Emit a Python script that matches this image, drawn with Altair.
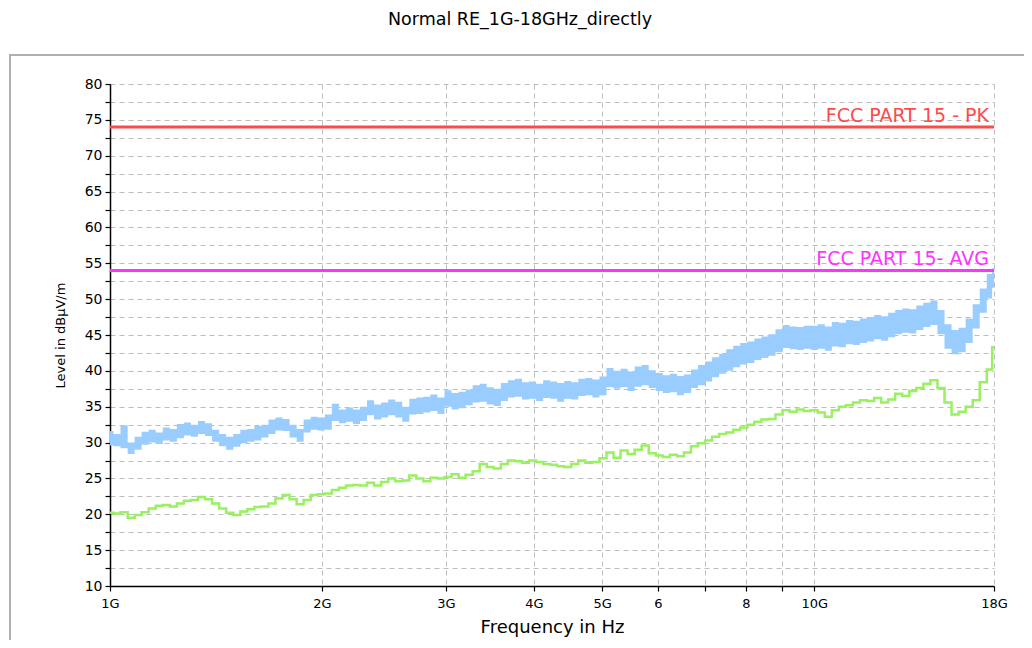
import altair as alt
import pandas as pd

# Frequency sweep points in GHz (log-spaced reading positions)
freq_ghz = [1.000, 1.023, 1.047, 1.072, 1.096, 1.122, 1.148, 1.175, 1.202, 1.230,
            1.259, 1.288, 1.318, 1.349, 1.380, 1.413, 1.445, 1.479, 1.514, 1.549,
            1.585, 1.622, 1.660, 1.698, 1.738, 1.778, 1.820, 1.862, 1.905, 1.950,
            1.995, 2.042, 2.089, 2.138, 2.188, 2.239, 2.291, 2.344, 2.399, 2.455,
            2.512, 2.570, 2.630, 2.692, 2.754, 2.818, 2.884, 2.951, 3.020, 3.090,
            3.162, 3.236, 3.311, 3.388, 3.467, 3.548, 3.631, 3.715, 3.802, 3.890,
            3.981, 4.074, 4.169, 4.266, 4.365, 4.467, 4.571, 4.677, 4.786, 4.898,
            5.012, 5.129, 5.248, 5.370, 5.495, 5.623, 5.754, 5.888, 6.026, 6.166,
            6.310, 6.457, 6.607, 6.761, 6.918, 7.079, 7.244, 7.413, 7.586, 7.762,
            7.943, 8.128, 8.318, 8.511, 8.710, 8.913, 9.120, 9.333, 9.550, 9.772,
            10.000, 10.233, 10.471, 10.715, 10.965, 11.220, 11.482, 11.749, 12.023, 12.303,
            12.589, 12.882, 13.183, 13.490, 13.804, 14.125, 14.454, 14.791, 15.136, 15.488,
            15.849, 16.218, 16.596, 16.982, 17.378, 17.783, 18.000]

# Peak trace (light blue) - lower and upper edge of the noisy band, dBuV/m
peak_lo = [29.6, 29.5, 29.2, 28.4, 29.0, 29.7, 30.0, 29.8, 30.3, 30.1,
           30.6, 31.0, 30.8, 31.2, 30.9, 30.1, 29.5, 29.0, 29.4, 29.9,
           30.1, 30.3, 30.7, 31.2, 31.7, 31.6, 30.7, 30.1, 31.4, 31.8,
           31.7, 31.8, 33.0, 32.7, 32.9, 32.6, 33.0, 33.8, 33.2, 33.5,
           33.8, 33.5, 32.9, 33.9, 34.0, 34.2, 34.4, 34.0, 35.0, 34.6,
           34.8, 35.2, 35.6, 35.7, 35.3, 35.1, 35.8, 36.3, 36.4, 36.0,
           36.1, 35.8, 36.2, 36.1, 35.7, 36.1, 36.0, 36.5, 36.6, 36.3,
           36.6, 37.7, 37.5, 37.7, 37.2, 37.8, 38.0, 37.6, 37.2, 36.9,
           37.0, 36.6, 36.9, 37.6, 38.0, 38.5, 39.1, 39.6, 40.0, 40.5,
           40.9, 41.1, 41.5, 41.8, 42.1, 42.6, 43.2, 43.0, 42.9, 43.1,
           42.9, 43.1, 42.8, 43.4, 43.3, 43.7, 43.6, 43.9, 44.1, 44.4,
           44.2, 44.7, 45.1, 45.3, 45.2, 45.7, 46.1, 46.4, 45.1, 43.1,
           42.3, 42.6, 43.9, 45.9, 48.1, 50.1, 51.6]
peak_hi = [31.6, 31.2, 32.4, 30.0, 30.8, 31.5, 31.8, 31.4, 32.1, 31.9,
           32.6, 32.8, 32.5, 33.0, 32.7, 31.8, 31.2, 30.8, 31.2, 31.8,
           31.9, 32.3, 32.5, 33.2, 33.5, 33.3, 32.5, 31.9, 33.2, 33.6,
           33.5, 33.9, 35.4, 34.6, 34.9, 34.6, 35.0, 35.9, 35.3, 35.6,
           36.0, 35.7, 35.0, 36.1, 36.3, 36.4, 36.7, 36.3, 37.3, 36.9,
           37.1, 37.4, 38.0, 38.2, 37.7, 37.5, 38.3, 38.7, 38.9, 38.4,
           38.5, 38.2, 38.7, 38.5, 38.3, 38.6, 38.4, 38.9, 39.0, 38.8,
           39.2, 40.4, 40.0, 40.3, 39.9, 40.6, 40.8, 40.1, 39.7, 39.4,
           39.6, 39.3, 39.5, 40.2, 40.8, 41.3, 41.9, 42.4, 43.0, 43.5,
           43.9, 44.1, 44.5, 44.8, 45.1, 45.8, 46.4, 46.2, 46.1, 46.3,
           46.3, 46.5, 46.2, 46.8, 46.7, 47.1, 47.0, 47.3, 47.5, 47.8,
           47.6, 48.1, 48.5, 48.7, 48.6, 49.1, 49.5, 49.8, 48.5, 46.5,
           45.7, 46.0, 47.3, 49.3, 51.5, 53.5, 54.3]

# Average trace (light green), dBuV/m
avg_level = [20.2, 20.1, 20.3, 19.5, 19.9, 20.3, 20.8, 21.2, 21.3, 21.1,
             21.5, 21.9, 22.0, 22.4, 22.1, 21.5, 20.8, 20.2, 19.9, 20.4,
             20.7, 21.0, 21.1, 21.5, 22.2, 22.7, 22.1, 21.4, 22.0, 22.7,
             22.8, 22.9, 23.4, 23.7, 24.0, 24.1, 24.0, 24.4, 24.0, 24.5,
             25.0, 24.6, 24.7, 25.4, 25.0, 24.6, 25.1, 25.0, 25.2, 25.6,
             25.1, 25.5, 26.0, 27.0, 26.6, 26.4, 27.0, 27.5, 27.4, 27.2,
             27.5, 27.3, 27.0, 26.9, 26.7, 26.6, 27.0, 27.5, 27.2, 27.3,
             27.8, 28.6, 27.9, 28.9, 28.4, 29.0, 29.6, 28.5, 28.2, 28.0,
             28.3, 28.1, 28.6, 29.5, 29.9, 30.3, 30.8, 31.2, 31.4, 31.8,
             32.1, 32.5, 32.9, 33.2, 33.3, 33.9, 34.5, 34.3, 34.6, 34.4,
             34.5, 34.2, 33.6, 34.5, 35.0, 35.2, 35.6, 35.9, 35.8, 36.2,
             35.6, 36.0, 36.8, 36.5, 37.2, 37.6, 38.2, 38.7, 37.6, 35.6,
             33.9, 34.3, 35.0, 35.9, 38.4, 40.2, 43.3]

# Limit lines
limit_names = ["FCC PART 15 - PK", "FCC PART 15- AVG"]
limit_levels = [74, 54]
limit_colors = ["#ff4a4a", "#ff33ff"]

# Axis ticks
x_ticks = [1, 2, 3, 4, 5, 6, 7, 8, 9, 10, 18]
x_labels = ["1G", "2G", "3G", "4G", "5G", "6", "", "8", "", "10G", "18G"]
y_ticks = [10, 12.5, 15, 17.5, 20, 22.5, 25, 27.5, 30, 32.5, 35, 37.5, 40, 42.5,
           45, 47.5, 50, 52.5, 55, 57.5, 60, 62.5, 65, 67.5, 70, 72.5, 75, 77.5, 80]

FONT = "DejaVu Sans"

peak_df = pd.DataFrame({"f": freq_ghz, "lo": peak_lo, "hi": peak_hi})
avg_df = pd.DataFrame({"f": freq_ghz, "v": avg_level})
lim_df = pd.DataFrame({"name": limit_names, "level": limit_levels,
                       "color": limit_colors, "f": [18, 18]})

label_cond = " : ".join(
    f"datum.value == {t} ? '{l}'" for t, l in zip(x_ticks, x_labels)
) + " : ''"

x_scale = alt.Scale(type="log", domain=[1, 18], nice=False)
y_scale = alt.Scale(domain=[10, 80], nice=False)

x_axis = alt.Axis(values=x_ticks, labelExpr=label_cond, labelOverlap=False,
                  title="Frequency in Hz", grid=True, gridDash=[5, 4],
                  gridColor="#bdbdbd", gridWidth=1, domainColor="black",
                  domainWidth=1.5, tickColor="black", tickSize=5, tickWidth=1.2,
                  labelFont=FONT, labelFontSize=13, labelColor="black",
                  labelPadding=6, titleFont=FONT, titleFontSize=18,
                  titleFontWeight="normal", titleColor="black", titlePadding=8,
                  labelFlush=False)
y_axis = alt.Axis(values=y_ticks, labelExpr="datum.value % 5 == 0 ? datum.value : ''",
                  labelOverlap=False,
                  title="Level in dBµV/m", grid=True, gridDash=[5, 4],
                  gridColor="#bdbdbd", gridWidth=1, domainColor="black",
                  domainWidth=1.5, tickColor="black", tickSize=5, tickWidth=1.2,
                  labelFont=FONT, labelFontSize=14, labelColor="black",
                  labelPadding=3, titleFont=FONT, titleFontSize=13,
                  titleFontWeight="normal", titleColor="black", titlePadding=17)

peak = alt.Chart(peak_df).mark_area(
    color="#99ccff", interpolate="step", opacity=1
).encode(
    x=alt.X("f:Q", scale=x_scale, axis=x_axis),
    y=alt.Y("lo:Q", scale=y_scale, axis=y_axis),
    y2="hi:Q",
)

avg = alt.Chart(avg_df).mark_line(
    color="#99f060", interpolate="step", strokeWidth=2.5
).encode(
    x=alt.X("f:Q", scale=x_scale, axis=x_axis),
    y=alt.Y("v:Q", scale=y_scale, axis=y_axis),
)

rules = alt.Chart(lim_df).mark_rule(strokeWidth=3).encode(
    y=alt.Y("level:Q", scale=y_scale, axis=y_axis),
    color=alt.Color("color:N", scale=None),
)

labels = alt.Chart(lim_df).mark_text(
    align="right", baseline="bottom", dx=-5, dy=-1, font=FONT, fontSize=19
).encode(
    x=alt.X("f:Q", scale=x_scale, axis=x_axis),
    y=alt.Y("level:Q", scale=y_scale, axis=y_axis),
    text="name:N",
    color=alt.Color("color:N", scale=None),
)

frame = alt.Chart(pd.DataFrame({"k": [0]})).mark_rect(
    fillOpacity=0, stroke="#b0b0b0", strokeWidth=2
).encode(x=alt.value(-100), x2=alt.value(1100), y=alt.value(-29), y2=alt.value(640))

chart = alt.layer(peak, avg, rules, labels, frame).properties(
    width=884, height=502,
    title=alt.TitleParams("Normal RE_1G-18GHz_directly", frame="group",
                          anchor="middle", offset=26, dx=-32, fontSize=17.5,
                          fontWeight="normal", font=FONT, color="black"),
    autosize=alt.AutoSizeParams(type="none"),
    padding={"left": 102, "top": 76, "right": 30, "bottom": 54},
).configure(background="white").configure_view(stroke=None)

chart.save("out.html", embed_options={"renderer": "svg", "actions": False})
